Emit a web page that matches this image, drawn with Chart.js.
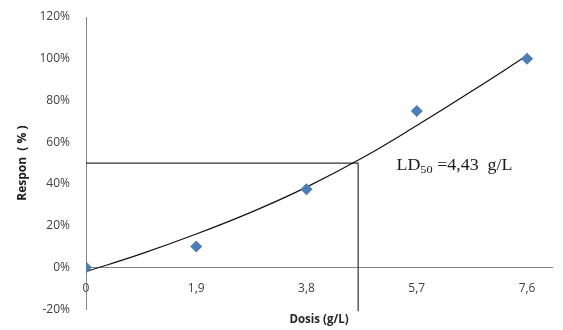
<!DOCTYPE html>
<html>
<head>
<meta charset="utf-8">
<script src="https://cdn.jsdelivr.net/npm/chart.js@4/dist/chart.umd.min.js"></script>
<style>
  html, body { margin: 0; padding: 0; background: #ffffff; }
  #wrap { width: 563px; height: 330px; }
</style>
</head>
<body>
<div id="wrap"><canvas id="c" width="563" height="330"></canvas></div>
<script>
// ---- data ----
const xTickValues = [0, 1.9, 3.8, 5.7, 7.6];
const doseValues = [0, 1.9, 3.8, 5.7, 7.6];
const responseValues = [0, 10, 37.5, 75, 100];
// trend curve at regular doses
const trendDose = [0, 0.95, 1.9, 2.85, 3.8, 4.75, 5.7, 6.65, 7.6];
const trendResponse = [-2, 6.5, 16, 26.5, 38.5, 52.3, 68, 84.5, 101.5];
// LD50 guide lines (as drawn in the picture)
const ldGuideDose = [0, 4.69, 4.69];
const ldGuideResponse = [50, 50, -21];
const ldLabel = { main: 'LD', sub: '50', rest: ' =4,43  g/L', dose: 5.35, response: 46.5 };
const yMin = -20, yMax = 120, yStep = 20;
const xMax = 8.03;

const pts = (xs, ys) => xs.map((x, i) => ({ x: x, y: ys[i] }));

const ldTextPlugin = {
  id: 'ldText',
  afterDatasetsDraw(chart) {
    const { ctx, scales } = chart;
    const x0 = scales.x.getPixelForValue(ldLabel.dose);
    const y0 = scales.y.getPixelForValue(ldLabel.response);
    ctx.save();
    ctx.fillStyle = '#1a1a1a';
    ctx.textBaseline = 'alphabetic';
    ctx.textAlign = 'left';
    const big = '16px "Liberation Serif", "Times New Roman", serif';
    const small = '11px "Liberation Serif", "Times New Roman", serif';
    ctx.font = big; const w1 = ctx.measureText(ldLabel.main).width;
    ctx.font = small; const w2 = ctx.measureText(ldLabel.sub).width;
    ctx.font = big; const w3 = ctx.measureText(ldLabel.rest).width;
    const total = w1 + w2 + w3;
    const sx = 116 / total;
    ctx.translate(x0, y0);
    ctx.scale(sx, 1);
    ctx.font = big; ctx.fillText(ldLabel.main, 0, 0);
    ctx.font = small; ctx.fillText(ldLabel.sub, w1, 3);
    ctx.font = big; ctx.fillText(ldLabel.rest, w1 + w2, 0);
    ctx.restore();
  }
};

new Chart(document.getElementById('c'), {
  type: 'scatter',
  data: {
    datasets: [
      {
        label: 'Respon',
        data: pts(doseValues, responseValues),
        pointStyle: 'rectRot',
        pointRadius: 6,
        pointHoverRadius: 6,
        backgroundColor: '#4a7ebb',
        borderColor: '#4a7ebb',
        borderWidth: 0,
        showLine: false,
        order: 0
      },
      {
        label: 'Trend',
        data: pts(trendDose, trendResponse),
        showLine: true,
        pointRadius: 0,
        borderColor: '#111111',
        borderWidth: 1.2,
        tension: 0.4,
        fill: false,
        order: 1
      },
      {
        label: 'LD50',
        data: pts(ldGuideDose, ldGuideResponse),
        showLine: true,
        pointRadius: 0,
        borderColor: '#333333',
        borderWidth: 1.2,
        tension: 0,
        fill: false,
        clip: false,
        order: 2
      }
    ]
  },
  options: {
    responsive: false,
    animation: false,
    events: [],
    layout: { padding: { left: 0, right: 11, top: 17, bottom: 0 } },
    plugins: { legend: { display: false }, tooltip: { enabled: false } },
    scales: {
      x: {
        type: 'linear',
        position: { y: 0 },
        min: 0,
        max: xMax,
        afterBuildTicks(scale) { scale.ticks = xTickValues.map(v => ({ value: v })); },
        grid: { display: false, drawTicks: false, tickLength: 0 },
        border: { display: true, color: '#868686', width: 1 },
        ticks: {
          padding: 14,
          maxRotation: 0,
          autoSkip: false,
          color: '#404040',
          font: { family: '"Open Sans", sans-serif', size: 12 },
          callback: (v) => String(v).replace('.', ',')
        },
        title: { display: false }
      },
      x2: {
        type: 'linear',
        position: 'bottom',
        min: 0,
        max: 1,
        grid: { display: false, drawTicks: false, tickLength: 0 },
        border: { display: false },
        ticks: { display: false },
        title: {
          display: true,
          text: 'Dosis (g/L)',
          color: '#262626',
          font: { family: '"Open Sans", sans-serif', size: 11.5, weight: 'bold' },
          padding: { top: 4, bottom: 3 }
        }
      },
      y: {
        type: 'linear',
        position: 'left',
        min: yMin,
        max: yMax,
        afterFit(scale) { scale.width = 86; scale.paddingTop = 0; scale.paddingBottom = 0; },
        grid: { display: false, drawTicks: false, tickLength: 0 },
        border: { display: true, color: '#868686', width: 1 },
        ticks: {
          stepSize: yStep,
          padding: 16,
          color: '#404040',
          font: { family: '"Open Sans", sans-serif', size: 12 },
          callback: (v) => v + '%'
        },
        title: {
          display: true,
          text: 'Respon  ( % )',
          color: '#1a1a1a',
          font: { family: '"Open Sans", sans-serif', size: 12, weight: 'bold' },
          padding: { top: 15, bottom: 0 }
        }
      }
    }
  },
  plugins: [ldTextPlugin]
});
</script>
</body>
</html>
